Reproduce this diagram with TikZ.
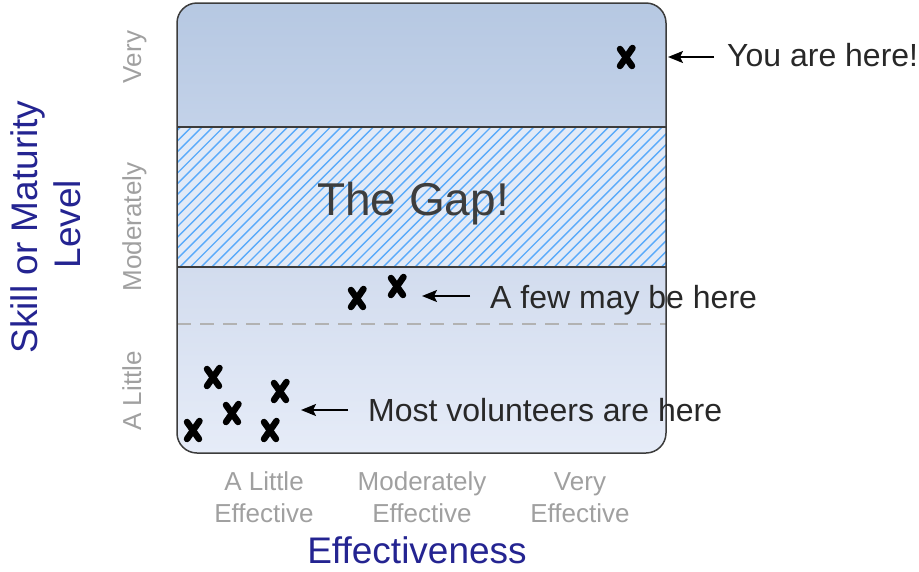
\documentclass[tikz,border=0pt]{standalone}
\usepackage{fontspec}
\setmainfont{Liberation Sans}
\usetikzlibrary{arrows.meta}
\definecolor{bandA}{RGB}{182,200,226}
\definecolor{bandB}{RGB}{195,210,233}
\definecolor{gapfill}{RGB}{226,234,247}
\definecolor{hatchblue}{RGB}{90,170,250}
\definecolor{lowA}{RGB}{210,220,238}
\definecolor{lowB}{RGB}{230,236,248}
\definecolor{framegrey}{RGB}{60,60,60}
\definecolor{dashgrey}{RGB}{178,178,178}
\definecolor{ticktext}{RGB}{160,160,160}
\definecolor{axisblue}{RGB}{36,36,145}
\definecolor{labeltext}{RGB}{40,40,40}
\tikzset{
  xmark/.style={line width=6.5pt, line cap=round},
  xm/.pic={\draw[xmark] (6.5,9) -- (-6,-9); \draw[xmark] (-6,8) -- (6,-9);},
  pointer/.style={-{Stealth[length=15pt,width=12pt,inset=3pt]}, line width=2pt},
  lbl/.style={font=\fontsize{32}{36}\selectfont, text=labeltext, inner sep=0pt, anchor=base west},
  ticklbl/.style={font=\fontsize{26}{30}\selectfont, text=ticktext, inner sep=0pt, anchor=base},
  axislbl/.style={font=\fontsize{37}{42}\selectfont, text=axisblue, inner sep=0pt, anchor=base},
  framepen/.style={draw=framegrey, line width=1.5pt},
  hatchpen/.style={draw=hatchblue, line width=1.4pt},
  dashpen/.style={draw=dashgrey, line width=2.5pt, dash pattern=on 14pt off 9pt}
}
\begin{document}
\begin{tikzpicture}[x=1pt,y=1pt]
\useasboundingbox (0,0) rectangle (919,-571);
% regions
\begin{scope}
  \clip[rounded corners=20] (177,-3) rectangle (666,-453);
  \shade[top color=bandA, bottom color=bandB] (170,-3) rectangle (670,-127);
  \fill[gapfill] (170,-127) rectangle (670,-267);
  \begin{scope}
    \clip (177,-127) rectangle (666,-267);
    \foreach \i in {0,...,62} { \draw[hatchpen] ({30+10.7*\i},-267) -- ++(140,140); }
  \end{scope}
  \shade[top color=lowA, bottom color=lowB] (170,-267) rectangle (670,-453);
\end{scope}
\draw[dashpen] (177,-324) -- (666,-324);
\draw[framepen] (177,-127) -- (666,-127);
\draw[framepen] (177,-267) -- (666,-267);
\draw[framepen, rounded corners=20] (177,-3) rectangle (666,-453);
% gap label
\node[font=\fontsize{46}{52}\selectfont, text=labeltext!90, inner sep=0pt, anchor=base] (gap) at (413,-215) {The Gap!};
% marks
\pic at (626,-57) {xm};
\pic at (357,-298) {xm};
\pic at (397,-286) {xm};
\pic at (213,-377) {xm};
\pic at (280,-391) {xm};
\pic at (232,-413) {xm};
\pic at (193,-430) {xm};
\pic at (270,-430) {xm};
% labels and pointers
\node[lbl] (you) at (727,-66) {You are here!};
\coordinate (p1s) at (714,-57);
\coordinate (p1e) at (668,-57);
\draw[pointer] (p1s) -- (p1e);
\node[lbl] (few) at (490,-308) {A few may be here};
\coordinate (p2s) at (470,-296);
\coordinate (p2e) at (422,-296);
\draw[pointer] (p2s) -- (p2e);
\node[lbl] (most) at (368,-421) {Most volunteers are here};
\coordinate (p3s) at (348,-410);
\coordinate (p3e) at (301,-410);
\draw[pointer] (p3s) -- (p3e);
% x ticks
\node[ticklbl] (xa1) at (264,-490) {A Little};
\node[ticklbl] (xa2) at (264,-522) {Effective};
\node[ticklbl] (xb1) at (422,-490) {Moderately};
\node[ticklbl] (xb2) at (422,-522) {Effective};
\node[ticklbl] (xc1) at (580,-490) {Very};
\node[ticklbl] (xc2) at (580,-522) {Effective};
\node[axislbl] (xaxis) at (417,-563) {Effectiveness};
% y ticks
\node[ticklbl, rotate=90] (ya) at (141,-391) {A Little};
\node[ticklbl, rotate=90] (yb) at (141,-227) {Moderately};
\node[ticklbl, rotate=90] (yc) at (141,-57) {Very};
\node[axislbl, rotate=90] (yaxis1) at (37,-227) {Skill or Maturity};
\node[axislbl, rotate=90] (yaxis2) at (80,-224) {Level};
\end{tikzpicture}
\end{document}
